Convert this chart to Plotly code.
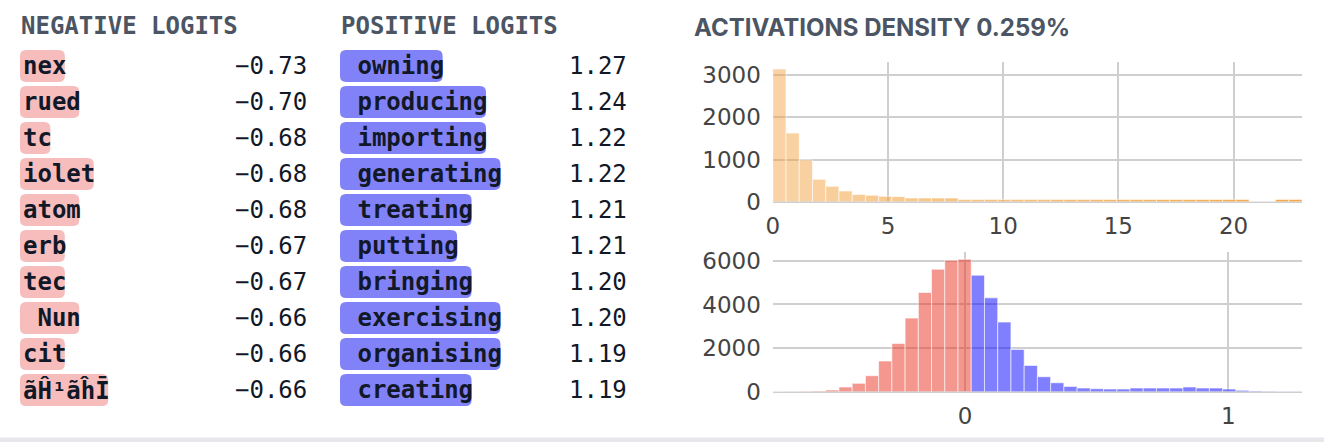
import plotly.graph_objects as go

# ---------------- data ----------------
neg_tokens = ["nex", "rued", "tc", "iolet", "atom", "erb", "tec", " Nun", "cit", "ãĤ¹ãĥĪ"]
neg_values = [-0.73, -0.70, -0.68, -0.68, -0.68, -0.67, -0.67, -0.66, -0.66, -0.66]
pos_tokens = [" owning", " producing", " importing", " generating", " treating",
              " putting", " bringing", " exercising", " organising", " creating"]
pos_values = [1.27, 1.24, 1.22, 1.22, 1.21, 1.21, 1.20, 1.20, 1.19, 1.19]

density_label = "ACTIVATIONS DENSITY 0.259%"
act_min, act_max = 0.0, 22.97
act_counts = [3150, 1630, 990, 530, 364, 253, 170, 152, 128, 119,
              88, 87, 87, 86, 50, 50, 50, 50, 50, 50,
              50, 50, 50, 50, 50, 50, 50, 50, 50, 50,
              50, 50, 50, 50, 50, 50, 0, 0, 50, 50]
logit_min, logit_max = -0.73, 1.28
logit_counts = [2, 5, 15, 30, 76, 214, 382, 733, 1405, 2214,
                3374, 4550, 5618, 6031, 6076, 5344, 4305, 3191, 1939, 1206,
                687, 412, 244, 168, 137, 122, 122, 168, 168, 168,
                168, 214, 168, 168, 122, 61, 30, 15, 10, 5]

# ---------------- layout constants ----------------
W, H = 1324, 442
def px(x):
    return x / W
def py(y):
    return 1 - y / H

MONO = "DejaVu Sans Mono"
TEXT_DARK = "#111827"
HEAD = "#4b5563"
GRID = "#cfcfcf"

fig = go.Figure()

# top histogram (activations)
n_act = len(act_counts)
aw = (act_max - act_min) / n_act
act_x = [act_min + (i + 0.5) * aw for i in range(n_act)]
act_colors = []
for i in range(n_act):
    a = 0.45 + 0.5 * i / (n_act - 1)
    act_colors.append(f"rgba(242,158,55,{a:.3f})")
fig.add_trace(go.Bar(x=act_x, y=act_counts, width=aw, marker=dict(color=act_colors,
                     line=dict(color="rgba(255,255,255,0.6)", width=1)),
                     xaxis="x", yaxis="y", showlegend=False, hoverinfo="skip"))

# bottom histogram (logits)
n_lg = len(logit_counts)
lw = (logit_max - logit_min) / n_lg
lg_x = [logit_min + (i + 0.5) * lw for i in range(n_lg)]
lg_colors = ["rgba(232,47,32,0.5)" if x < 0 else "rgba(0,0,255,0.5)" for x in lg_x]
fig.add_trace(go.Bar(x=lg_x, y=logit_counts, width=lw, marker=dict(color=lg_colors,
                     line=dict(color="rgba(255,255,255,0.6)", width=1)),
                     xaxis="x2", yaxis="y2", showlegend=False, hoverinfo="skip"))

tickfont = dict(family="DejaVu Sans", size=23, color="#444")
x_dom = [px(772.8), px(1302)]
common_x = dict(showgrid=True, gridcolor=GRID, gridwidth=2, tickfont=tickfont,
                fixedrange=True, ticklabelstandoff=8)
common_y = dict(showgrid=True, gridcolor=GRID, gridwidth=2, tickfont=tickfont,
                fixedrange=True, zeroline=True, zerolinecolor=GRID, zerolinewidth=2,
                ticklabelstandoff=11)
fig.update_layout(
    width=W, height=H, margin=dict(l=0, r=0, t=0, b=0, autoexpand=False),
    paper_bgcolor="white", plot_bgcolor="white", bargap=0,
    xaxis=dict(domain=x_dom, range=[act_min, act_max], dtick=5, tick0=0,
               zeroline=True, zerolinecolor="rgba(0,0,0,0)", anchor="y", **common_x),
    yaxis=dict(domain=[py(201.7), py(62.3)], range=[0, max(act_counts) * 1.05], dtick=1000,
               anchor="x", **common_y),
    xaxis2=dict(domain=x_dom, range=[logit_min, logit_max], dtick=1, tick0=0,
                zeroline=True, zerolinecolor=GRID, zerolinewidth=2, anchor="y2", **common_x),
    yaxis2=dict(domain=[py(391.7), py(251.7)], range=[0, 6420], dtick=2000,
                anchor="x2", **common_y),
)

annotations = []
shapes = []

def rounded_rect(x0, y0, x1, y1, r):
    X = lambda v: f"{px(v):.6f}"
    Y = lambda v: f"{py(v):.6f}"
    return (f"M {X(x0 + r)},{Y(y0)} L {X(x1 - r)},{Y(y0)} "
            f"Q {X(x1)},{Y(y0)} {X(x1)},{Y(y0 + r)} L {X(x1)},{Y(y1 - r)} "
            f"Q {X(x1)},{Y(y1)} {X(x1 - r)},{Y(y1)} L {X(x0 + r)},{Y(y1)} "
            f"Q {X(x0)},{Y(y1)} {X(x0)},{Y(y1 - r)} L {X(x0)},{Y(y0 + r)} "
            f"Q {X(x0)},{Y(y0)} {X(x0 + r)},{Y(y0)} Z")

FS = 24
CW = 0.602 * FS
ROW0, PITCH = 66, 36

def add_column(title, x_left, tokens, values, x_val_right, box_color):
    annotations.append(dict(text=f"<b>{title}</b>", x=px(x_left - 1), y=py(26),
                            xref="paper", yref="paper", xanchor="left", yanchor="middle",
                            showarrow=False, font=dict(family=MONO, size=FS, color=HEAD)))
    for i, (tok, val) in enumerate(zip(tokens, values)):
        yc = ROW0 + i * PITCH
        w = len(tok) * CW + 1.5
        shapes.append(dict(type="path", path=rounded_rect(x_left, yc - 16, x_left + w, yc + 16, 6),
                           xref="paper", yref="paper", fillcolor=box_color,
                           line=dict(width=0), layer="below"))
        annotations.append(dict(text="<b>" + tok.replace(" ", "\u00a0") + "</b>",
                                x=px(x_left + 0.5), y=py(yc), xref="paper", yref="paper",
                                xanchor="left", yanchor="middle", showarrow=False,
                                font=dict(family=MONO, size=FS, color=TEXT_DARK)))
        annotations.append(dict(text=f"{val:.2f}".replace("-", "\u2212"),
                                x=px(x_val_right + 2), y=py(yc), xref="paper", yref="paper",
                                xanchor="right", yanchor="middle", showarrow=False,
                                font=dict(family=MONO, size=FS, color=TEXT_DARK)))

add_column("NEGATIVE LOGITS", 20, neg_tokens, neg_values, 307, "#f7bdbd")
add_column("POSITIVE LOGITS", 340, pos_tokens, pos_values, 627, "#8282f8")

annotations.append(dict(text=f"<b>{density_label}</b>", x=px(692), y=py(27),
                        xref="paper", yref="paper", xanchor="left", yanchor="middle",
                        showarrow=False, font=dict(family="Inter", size=24, color=HEAD)))

shapes.append(dict(type="rect", x0=0, x1=1, y0=0, y1=py(437.5), xref="paper", yref="paper",
                   fillcolor="#e5e7eb", line=dict(width=0), layer="below"))

fig.update_layout(annotations=annotations, shapes=shapes)
fig.write_html("out.html", config={"displayModeBar": False, "staticPlot": True},
               post_script="document.body.style.margin='0';document.body.style.overflow='hidden';")
